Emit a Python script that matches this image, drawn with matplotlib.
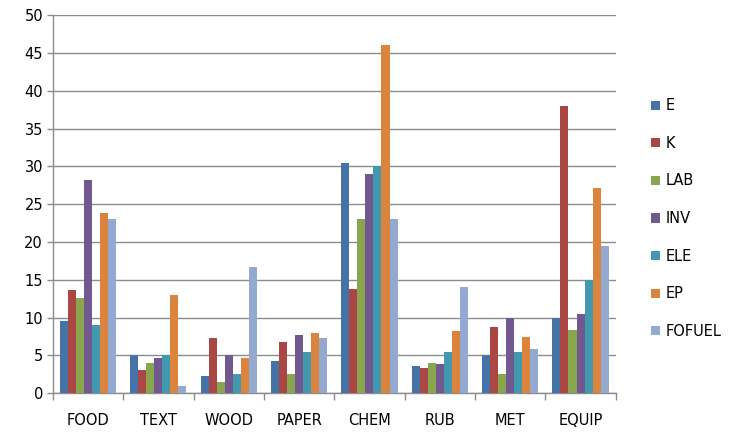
import numpy as np
import matplotlib
matplotlib.use("Agg")
import matplotlib.pyplot as plt
from matplotlib.patches import Patch

# sectors on the x axis
sectors = ["FOOD", "TEXT", "WOOD", "PAPER", "CHEM", "RUB", "MET", "EQUIP"]

# one list per series, in sector order
E = [9.6, 5.0, 2.3, 4.2, 30.4, 3.6, 5.0, 9.9]
K = [13.6, 3.1, 7.3, 6.75, 13.8, 3.35, 8.8, 38.0]
LAB = [12.6, 4.0, 1.5, 2.5, 23.0, 4.0, 2.5, 8.35]
INV = [28.2, 4.6, 5.0, 7.7, 29.0, 3.8, 9.9, 10.5]
ELE = [9.0, 5.0, 2.5, 5.4, 30.0, 5.5, 5.5, 15.0]
EP = [23.8, 13.0, 4.6, 8.0, 46.0, 8.2, 7.4, 27.15]
FOFUEL = [23.0, 0.9, 16.7, 7.3, 23.0, 14.0, 5.9, 19.4]

series_names = ["E", "K", "LAB", "INV", "ELE", "EP", "FOFUEL"]
series = [E, K, LAB, INV, ELE, EP, FOFUEL]
colors = ["#4572A7", "#AA4643", "#89A54E", "#71588F", "#4198AF", "#DB843D", "#93A9CF"]

fig = plt.figure(figsize=(7.33, 4.32), dpi=100)
ax = fig.add_axes([0.072, 0.09, 0.768, 0.875])

x = np.arange(len(sectors))
n = len(series)
w = 0.8 / n
for i, (vals, c) in enumerate(zip(series, colors)):
    ax.bar(x - 0.4 + w * (i + 0.5), vals, width=w, color=c, zorder=3)

ax.set_xlim(-0.5, len(sectors) - 0.5)
ax.set_ylim(0, 50)
ax.set_yticks(range(0, 51, 5))
ax.yaxis.grid(True, color="#8c8c8c", linewidth=1.0, zorder=0)

# category labels centred, tick marks on the group boundaries
ax.set_xticks(x)
ax.set_xticklabels(sectors)
ax.set_xticks(np.arange(-0.5, len(sectors)), minor=True)
ax.tick_params(axis="x", which="major", length=0, labelsize=10.5, pad=14)
ax.tick_params(axis="x", which="minor", length=5, color="#8c8c8c", width=1)
ax.tick_params(axis="y", length=4, color="#8c8c8c", width=1, labelsize=10.5, pad=3)

for s in ["top", "right"]:
    ax.spines[s].set_visible(False)
for s in ["left", "bottom"]:
    ax.spines[s].set_color("#8c8c8c")
    ax.spines[s].set_linewidth(1)

handles = [Patch(facecolor=c, label=nm) for nm, c in zip(series_names, colors)]
fig.legend(handles=handles, loc="center left", bbox_to_anchor=(0.88, 0.494),
           frameon=False, fontsize=10.5, handlelength=0.6, handleheight=0.6,
           handletextpad=0.4, labelspacing=1.55, borderaxespad=0)

fig.savefig("out.png", dpi=100)
